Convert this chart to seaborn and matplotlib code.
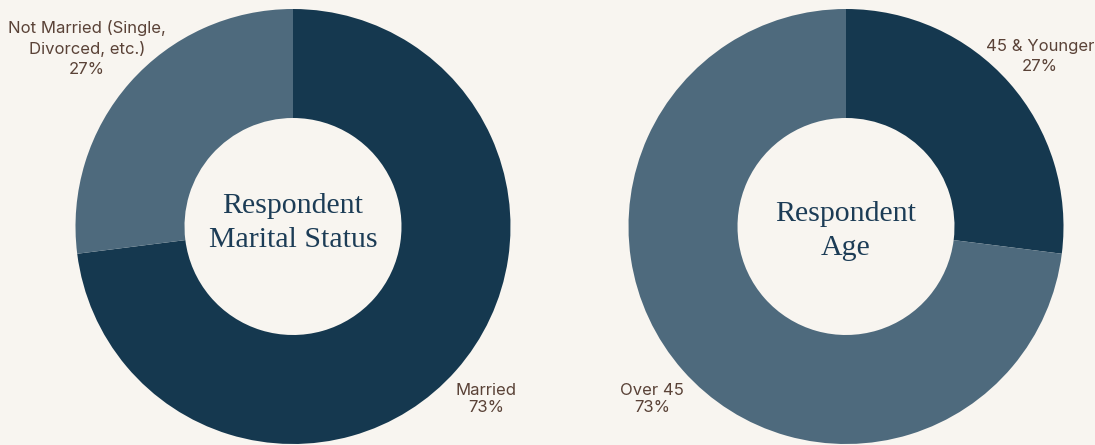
import matplotlib
matplotlib.use("Agg")
import matplotlib.pyplot as plt
import seaborn as sns

# Survey breakdowns
marital_labels = ["Married", "Not Married (Single,\nDivorced, etc.)"]
marital_values = [73, 27]
age_labels = ["45 & Younger", "Over 45"]
age_values = [27, 73]

BG = "#f8f5f0"
DARK = "#15384f"
SLATE = "#4e6a7d"
LABEL = "#5a4237"
TITLE = "#1c3c56"

sns.set_theme(style="white")
plt.rcParams["font.family"] = ["Inter", "DejaVu Sans"]

W, H = 1095, 445
fig = plt.figure(figsize=(W / 100, H / 100), dpi=100, facecolor=BG)
ax = fig.add_axes([0, 0, 1, 1])
ax.set_facecolor(BG)


def up(y):
    # pixel row (from top) -> data y
    return H - y


R_OUT, WIDTH = 217.5, 109

# Marital status donut
ax.pie(marital_values, colors=[DARK, SLATE], startangle=90, counterclock=False,
       center=(293, up(226.5)), radius=R_OUT,
       wedgeprops=dict(width=WIDTH, linewidth=0), frame=True)

# Age donut
ax.pie(age_values, colors=[DARK, SLATE], startangle=90, counterclock=False,
       center=(846, up(226.5)), radius=R_OUT,
       wedgeprops=dict(width=WIDTH, linewidth=0), frame=True)

ax.set_xlim(0, W)
ax.set_ylim(0, H)
ax.set_aspect("equal")
ax.axis("off")

lab_kw = dict(color=LABEL, fontsize=12, ha="center", va="center")

ax.text(87, up(48.5), f"{marital_labels[1]}\n{marital_values[1]}%", linespacing=1.4, **lab_kw)
ax.text(486, up(399), f"{marital_labels[0]}\n{marital_values[0]}%", linespacing=1.15, **lab_kw)
ax.text(1040, up(56.5), f"{age_labels[0]}\n{age_values[0]}%", linespacing=1.35, **lab_kw)
ax.text(652, up(399), f"{age_labels[1]}\n{age_values[1]}%", linespacing=1.15, **lab_kw)

title_kw = dict(color=TITLE, fontsize=21.5, ha="center", va="center",
                family=["Liberation Serif", "DejaVu Serif"])
ax.text(293, up(206), "Respondent", **title_kw)
ax.text(293, up(240), "Marital Status", **title_kw)
ax.text(846, up(214), "Respondent", **title_kw)
ax.text(846, up(248), "Age", **title_kw)

fig.savefig("out.png", dpi=100, facecolor=BG)
